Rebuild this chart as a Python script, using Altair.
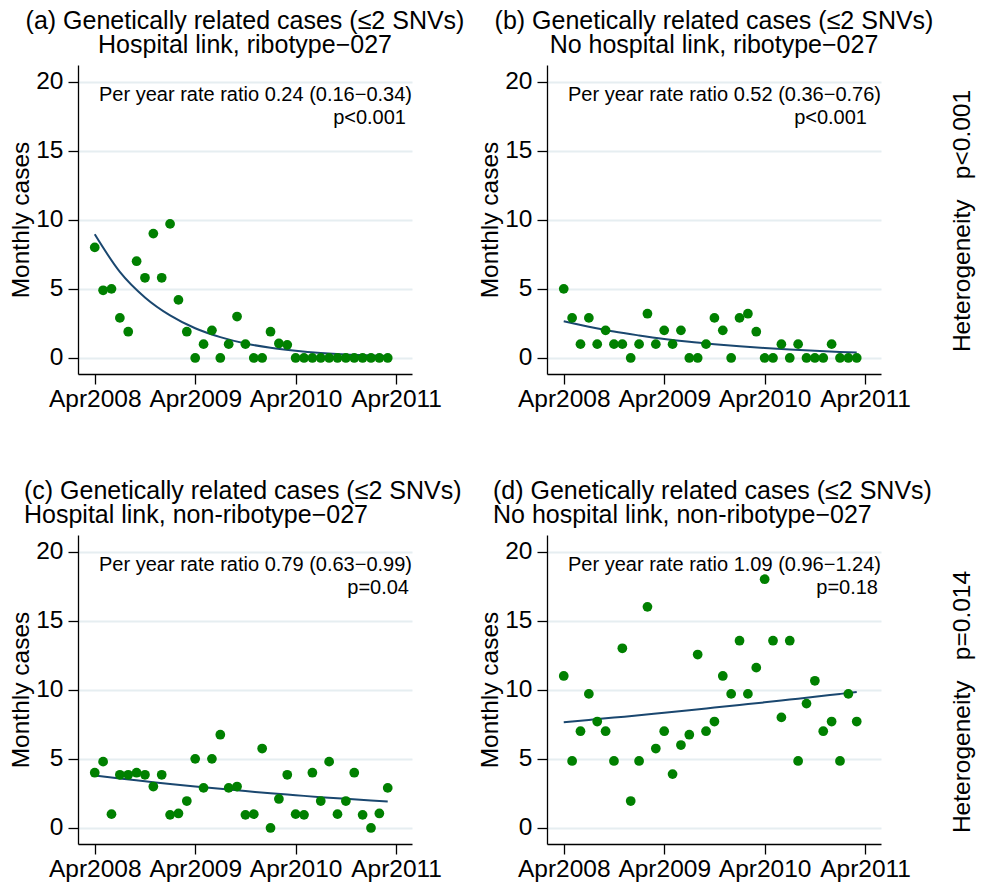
import altair as alt
import pandas as pd

FONT = "Liberation Sans"

# ---- data (monthly index 0 = Apr2008 ... 35 = Mar2011) ----
months = list(range(36))
year_ticks = [0, 12, 24, 36]
y_ticks = [0, 5, 10, 15, 20]

a_cases = [8.0, 4.9, 5.0, 2.9, 1.9, 7.0, 5.8, 9.0, 5.8, 9.7, 4.2, 1.9,
           0, 1.0, 2.0, 0, 1.0, 3.0, 1.0, 0, 0, 1.9, 1.05, 0.95,
           0, 0, 0, 0, 0, 0, 0, 0, 0, 0, 0, 0]
b_cases = [5.0, 2.9, 1.0, 2.9, 1.0, 2.0, 1.0, 1.0, 0, 1.0, 3.2, 1.0,
           2.0, 1.0, 2.0, 0, 0, 1.0, 2.9, 2.0, 0, 2.9, 3.2, 1.9,
           0, 0, 1.0, 0, 1.0, 0, 0, 0, 1.0, 0, 0, 0]
c_cases = [4.0, 4.8, 1.0, 3.85, 3.85, 4.0, 3.85, 3.0, 3.85, 0.95, 1.05, 1.95,
           5.0, 2.9, 5.0, 6.75, 2.9, 3.0, 0.95, 1.0, 5.75, 0, 2.1, 3.85,
           1.0, 0.95, 4.0, 1.95, 4.8, 1.0, 1.95, 4.0, 0.95, 0, 1.05, 2.9]
d_cases = [11.0, 4.85, 7.0, 9.7, 7.7, 7.0, 4.85, 13.0, 1.95, 4.85, 16.0, 5.75,
           7.0, 3.9, 6.0, 6.75, 12.55, 7.0, 7.7, 11.0, 9.7, 13.55, 9.7, 11.6,
           18.0, 13.55, 8.0, 13.55, 4.85, 9.0, 10.65, 7.0, 7.7, 4.85, 9.7, 7.7]

fit_months = [0, 3, 6, 9, 12, 15, 18, 21, 24, 27, 30, 33, 35]
a_fit = [8.95, 6.23, 4.38, 3.08, 2.15, 1.51, 1.05, 0.74, 0.52, 0.36, 0.25, 0.18, 0.14]
b_fit = [2.65, 2.26, 1.91, 1.63, 1.38, 1.17, 1.00, 0.85, 0.72, 0.61, 0.52, 0.44, 0.39]
c_fit = [3.80, 3.58, 3.38, 3.18, 3.00, 2.83, 2.67, 2.51, 2.37, 2.23, 2.11, 1.99, 1.91]
d_fit = [7.65, 7.82, 7.99, 8.15, 8.34, 8.52, 8.71, 8.90, 9.09, 9.29, 9.49, 9.70, 9.84]

titles = [
    ["(a) Genetically related cases (\u22642 SNVs)", "Hospital link, ribotype\u2212027"],
    ["(b) Genetically related cases (\u22642 SNVs)", "No hospital link, ribotype\u2212027"],
    ["(c) Genetically related cases (\u22642 SNVs)", "Hospital link, non-ribotype\u2212027"],
    ["(d) Genetically related cases (\u22642 SNVs)", "No hospital link, non-ribotype\u2212027"],
]
rr_texts = [
    "Per year rate ratio 0.24 (0.16\u22120.34)",
    "Per year rate ratio 0.52 (0.36\u22120.76)",
    "Per year rate ratio 0.79 (0.63\u22120.99)",
    "Per year rate ratio 1.09 (0.96\u22121.24)",
]
p_texts = ["p<0.001", "p<0.001", "p=0.04", "p=0.18"]
het_texts = ["Heterogeneity\u00a0\u00a0\u00a0p<0.001", "Heterogeneity\u00a0\u00a0\u00a0p=0.014"]

W, H = 334, 309
GREEN = "#008000"
NAVY = "#1a476f"
GRID = "#e6eef1"


def panel(cases, fit, title_lines, centered, rr, p, p_x, het=None, het_y=None):
    pts = pd.DataFrame({"month": months, "value": cases})
    fd = pd.DataFrame({"month": fit_months, "value": fit})
    xs = alt.X("month:Q",
               scale=alt.Scale(domain=[-2, 37.9], nice=False, zero=False),
               axis=alt.Axis(values=year_ticks, title=None, grid=False,
                             labelExpr="'Apr' + (2008 + datum.value / 12)",
                             labelPadding=3, labelFlush=False))
    ys = alt.Y("value:Q",
               scale=alt.Scale(domain=[-1.16, 21.2], nice=False, zero=False),
               axis=alt.Axis(values=y_ticks, title="Monthly cases", grid=True,
                             gridColor=GRID, gridWidth=1.8, labelPadding=5,
                             titlePadding=2, labelAngle=0))
    grid_layer = alt.Chart(pts).mark_point(opacity=0).encode(x=xs, y=ys)
    line = alt.Chart(fd).mark_line(color=NAVY, strokeWidth=2,
                                   interpolate="monotone").encode(
        x=alt.X("month:Q"), y=alt.Y("value:Q"))
    points = alt.Chart(pts).mark_circle(size=95, color=GREEN, opacity=1).encode(
        x=alt.X("month:Q"), y=alt.Y("value:Q"))
    t1 = alt.Chart(pd.DataFrame({"t": [rr]})).mark_text(
        align="right", baseline="middle", fontSize=20, font=FONT, color="black"
    ).encode(x=alt.value(334), y=alt.value(30), text="t:N")
    t2 = alt.Chart(pd.DataFrame({"t": [p]})).mark_text(
        align="right", baseline="middle", fontSize=20, font=FONT, color="black"
    ).encode(x=alt.value(p_x), y=alt.value(53), text="t:N")
    layers = [grid_layer, line, points, t1, t2]
    if het is not None:
        layers.append(alt.Chart(pd.DataFrame({"t": [het]})).mark_text(
            align="center", baseline="middle", angle=270, fontSize=24.5,
            font=FONT, color="black"
        ).encode(x=alt.value(416), y=alt.value(het_y), text="t:N"))
    if centered:
        title = alt.TitleParams(text=title_lines, anchor="middle", frame="group",
                                fontSize=25, font=FONT, fontWeight="normal",
                                color="black", lineHeight=24, offset=7)
    else:
        title = alt.TitleParams(text=title_lines, anchor="start", align="left",
                                frame="group", dx=-54,
                                fontSize=25, font=FONT, fontWeight="normal",
                                color="black", lineHeight=24, offset=7)
    return alt.layer(*layers).properties(width=W, height=H, title=title)


pa = panel(a_cases, a_fit, titles[0], True, rr_texts[0], p_texts[0], 328)
pb = panel(b_cases, b_fit, titles[1], True, rr_texts[1], p_texts[1], 320,
           het_texts[0], 156)
pc = panel(c_cases, c_fit, titles[2], False, rr_texts[2], p_texts[2], 331)
pd_ = panel(d_cases, d_fit, titles[3], False, rr_texts[3], p_texts[3], 331,
            het_texts[1], 167)

chart = alt.concat(pa, pb, pc, pd_, columns=2,
                   spacing=alt.RowColnumber(row=161, column=135),
                   bounds="flush").properties(
    padding={"left": 8, "top": 9, "right": 5, "bottom": 5},
    background="white",
).configure_view(stroke=None).configure_axis(
    labelFont=FONT, titleFont=FONT, labelFontSize=24.5, titleFontSize=24.5,
    labelColor="black", titleColor="black", titleFontWeight="normal",
    domainColor="black", tickColor="black", tickSize=10,
    domainWidth=1.3, tickWidth=1.3,
)

chart.save("out.html", embed_options={"renderer": "svg", "actions": False})
